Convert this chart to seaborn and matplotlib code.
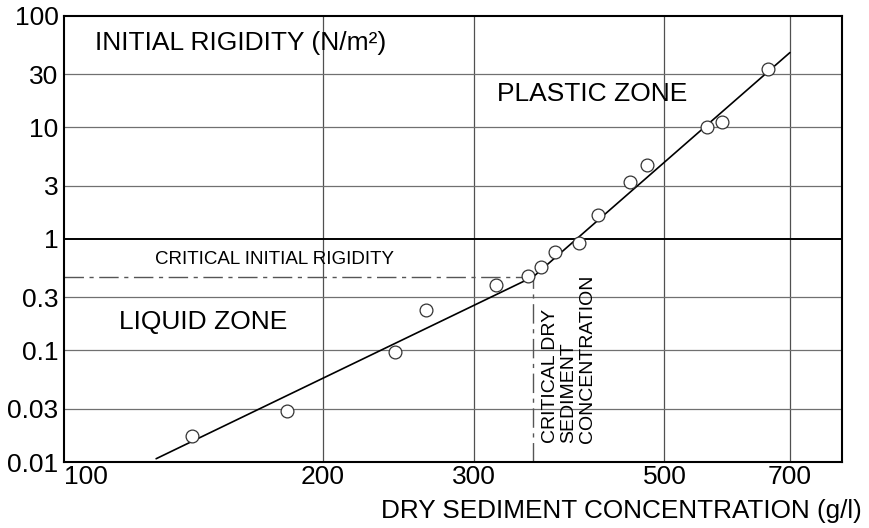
import numpy as np
import pandas as pd
import seaborn as sns
import matplotlib.pyplot as plt

# measured points
conc = [141, 182, 243, 264, 318, 347, 359, 373, 398, 419, 456, 477, 561, 583, 660]
rigidity = [0.0172, 0.0285, 0.097, 0.232, 0.387, 0.47, 0.564, 0.765, 0.92, 1.65, 3.24, 4.64, 10.1, 11.1, 33.3]

# fitted lines (liquid zone, then plastic zone)
fit_conc = [128, 352, 700]
fit_rigidity = [0.0107, 0.46, 47]

crit_conc = 352
crit_rigidity = 0.46

x_ticks = [100, 200, 300, 500, 700]
y_ticks = [0.01, 0.03, 0.1, 0.3, 1, 3, 10, 30, 100]
y_tick_labels = ['0.01', '0.03', '0.1', '0.3', '1', '3', '10', '30', '100']

sns.set_theme(style='white')
plt.rcParams['font.family'] = ['Liberation Sans', 'DejaVu Sans']
plt.rcParams['text.color'] = 'black'
plt.rcParams['xtick.color'] = 'black'
plt.rcParams['ytick.color'] = 'black'

points = pd.DataFrame({'conc': conc, 'rigidity': rigidity})
fit = pd.DataFrame({'conc': fit_conc, 'rigidity': fit_rigidity})

fig = plt.figure(figsize=(8.69, 5.28), dpi=100)
ax = fig.add_axes([0.0737, 0.125, 0.8953, 0.8447])
ax.set_xscale('log')
ax.set_yscale('log')
ax.set_xlim(100, 805)
ax.set_ylim(0.01, 100)

# grid
for v in x_ticks[1:]:
    ax.axvline(v, color='#505050', lw=0.9, zorder=1)
for v in y_ticks[1:-1]:
    ax.axhline(v, color='black' if v == 1 else '#707070', lw=1.4 if v == 1 else 0.9, zorder=1)

dashdot = (0, (14, 4, 3, 4))
ax.plot([100, crit_conc], [crit_rigidity, crit_rigidity], color='#555555', lw=1.0, linestyle=dashdot, zorder=2)
ax.plot([crit_conc, crit_conc], [0.01, crit_rigidity], color='#555555', lw=1.0, linestyle=dashdot, zorder=2)

sns.lineplot(data=fit, x='conc', y='rigidity', sort=False, color='black', lw=1.2, ax=ax, zorder=3)
sns.scatterplot(data=points, x='conc', y='rigidity', marker='o', s=85, facecolor='white',
                edgecolor='#333333', linewidth=0.9, ax=ax, zorder=4)

ax.set_xticks(x_ticks)
ax.set_xticklabels([str(t) for t in x_ticks], fontsize=19)
ax.get_xticklabels()[0].set_horizontalalignment('left')
ax.xaxis.set_minor_locator(plt.NullLocator())
ax.set_yticks(y_ticks)
ax.set_yticklabels(y_tick_labels, fontsize=19)
ax.yaxis.set_minor_locator(plt.NullLocator())
ax.tick_params(length=0, pad=4)
ax.tick_params(axis='x', pad=2)
ax.set_xlabel('')
ax.set_ylabel('')
for s in ax.spines.values():
    s.set_color('black')
    s.set_linewidth(1.5)

ax.text(0.04, 0.939, 'INITIAL RIGIDITY (N/m²)', transform=ax.transAxes, fontsize=19, va='center', ha='left')
ax.text(0.5566, 0.825, 'PLASTIC ZONE', transform=ax.transAxes, fontsize=19, va='center', ha='left')
ax.text(0.07, 0.315, 'LIQUID ZONE', transform=ax.transAxes, fontsize=19, va='center', ha='left')
ax.text(0.27, 0.454, 'CRITICAL INITIAL RIGIDITY', transform=ax.transAxes, fontsize=13.5, va='center', ha='center')
ax.text(0.649, 0.043, 'CRITICAL DRY\nSEDIMENT\nCONCENTRATION', transform=ax.transAxes, fontsize=14,
        rotation=90, ha='center', va='bottom', multialignment='left', linespacing=1.15)

fig.text(862 / 869, 1 - 511 / 528, 'DRY SEDIMENT CONCENTRATION (g/l)', fontsize=18.8,
         ha='right', va='center')

fig.savefig('out.png', dpi=100)
